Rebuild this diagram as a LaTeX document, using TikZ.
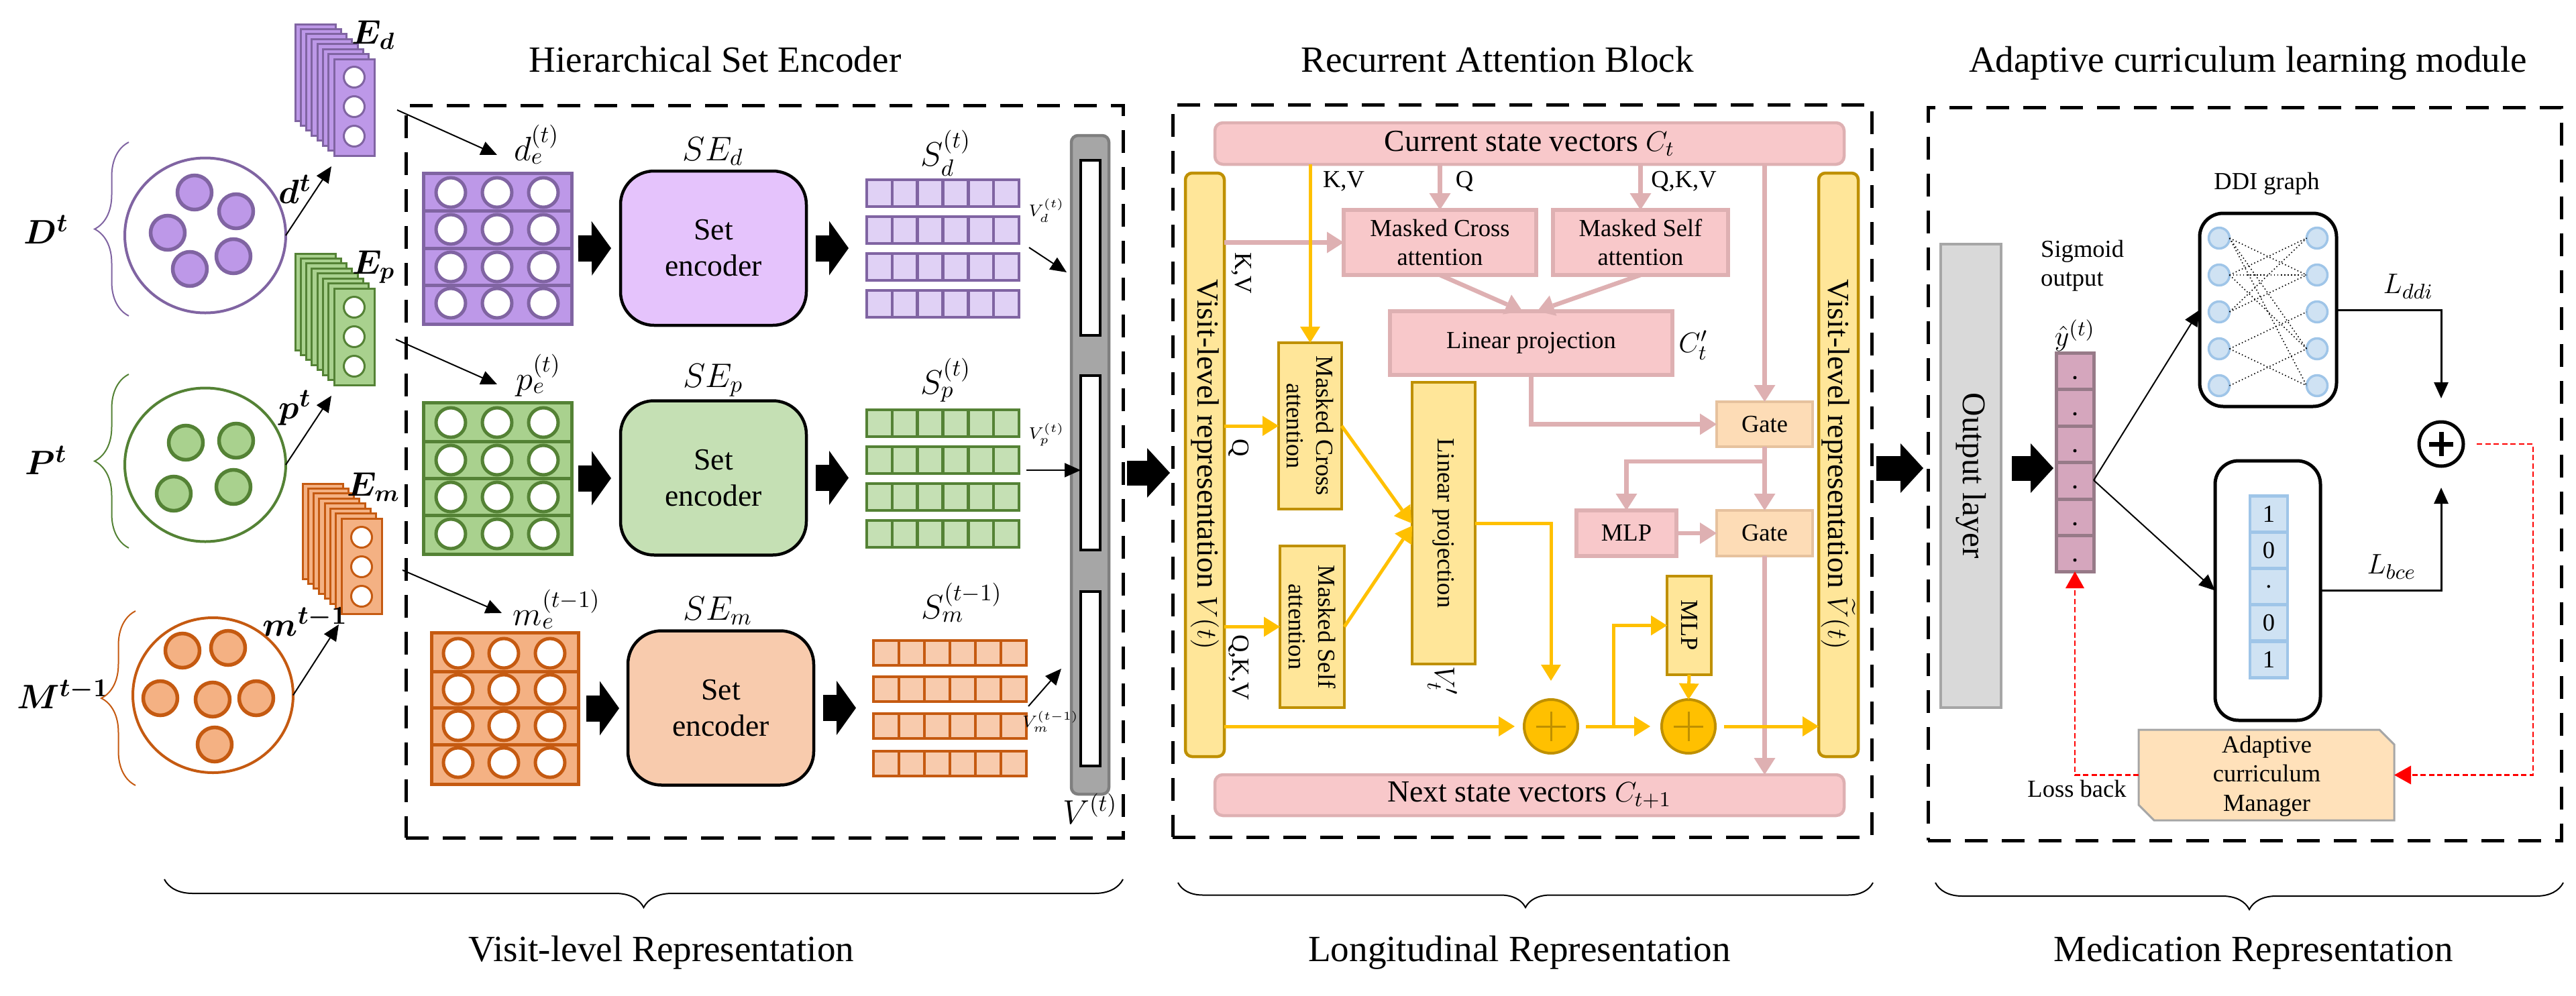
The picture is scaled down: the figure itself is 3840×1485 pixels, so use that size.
\documentclass[tikz,border=0pt]{standalone}
\usepackage{fontspec}
\setmainfont{Liberation Serif}
\usepackage{amsmath}
\usepackage{bm}
\usetikzlibrary{arrows.meta,shapes.geometric,decorations.pathreplacing,calc}
\definecolor{purF}{HTML}{BD98E8}
\definecolor{purD}{HTML}{8064A2}
\definecolor{purL}{HTML}{E5C3FC}
\definecolor{purS}{HTML}{E0D1F5}
\definecolor{grnF}{HTML}{A9D18E}
\definecolor{grnD}{HTML}{548235}
\definecolor{grnL}{HTML}{C5E0B4}
\definecolor{orgF}{HTML}{F4B183}
\definecolor{orgD}{HTML}{C55A11}
\definecolor{orgL}{HTML}{F8CBAD}
\definecolor{pinkF}{HTML}{F8C8CA}
\definecolor{pinkD}{HTML}{DEB0B2}
\definecolor{yelF}{HTML}{FFE699}
\definecolor{yelD}{HTML}{BF9000}
\definecolor{yelA}{HTML}{FFC000}
\definecolor{gateF}{HTML}{FDDCB6}
\definecolor{gateD}{HTML}{E6C29E}
\definecolor{grayF}{HTML}{D9D9D9}
\definecolor{grayD}{HTML}{A6A6A6}
\definecolor{barF}{HTML}{A6A6A6}
\definecolor{barD}{HTML}{7F7F7F}
\definecolor{sigF}{HTML}{D5A6BD}
\definecolor{sigD}{HTML}{977A88}
\definecolor{bluF}{HTML}{CFE2F3}
\definecolor{bluD}{HTML}{9FC5E8}
\definecolor{mgrF}{HTML}{FFE1BA}
\newcommand\myfsT{\fontsize{7}{8}\selectfont}
\newcommand\myfsS{\fontsize{10.4}{12.4}\selectfont}
\newcommand\myfsM{\fontsize{13}{15.4}\selectfont}
\newcommand\myfsN{\fontsize{14}{16}\selectfont}
\newcommand\myfsO{\fontsize{14}{16}\selectfont}
\newcommand\myfsL{\fontsize{15.7}{18}\selectfont}
\newcommand\myfsB{\fontsize{15}{18}\selectfont}
\newcommand\srow[6]{%
  \draw[fill=#5,draw=#6,line width=0.45mm] (#1,#2) rectangle ++(#3,#4);
  \foreach \k in {1,...,5}{\draw[#6,line width=0.45mm] ({#1+\k*#3/6},#2) -- ++(0,#4);}%
}
\begin{document}
\begin{tikzpicture}[x=0.1mm,y=-0.1mm,
  box/.style={rectangle,inner sep=0pt,outer sep=0pt},
  panelD/.style={box,fill=purF,draw=purD,line width=0.3mm,minimum width=6mm,minimum height=14.4mm},
  panelP/.style={box,fill=grnF,draw=grnD,line width=0.3mm,minimum width=6mm,minimum height=14.4mm},
  panelM/.style={box,fill=orgF,draw=orgD,line width=0.3mm,minimum width=6mm,minimum height=14.2mm},
  hole/.style={circle,inner sep=0pt,outer sep=0pt,fill=white,line width=0.3mm,minimum size=3.1mm},
  bag/.style={ellipse,inner sep=0pt,outer sep=0pt,line width=0.4mm},
  dot/.style={circle,inner sep=0pt,line width=0.55mm,minimum size=5.1mm},
  setenc/.style={box,rounded corners=5mm,draw=black,line width=0.45mm,minimum width=27.7mm,minimum height=23mm,align=center,font=\myfsM},
  pinkbox/.style={box,fill=pinkF,draw=pinkD,line width=0.55mm,align=center,font=\myfsS},
  yelbox/.style={box,fill=yelF,draw=yelD,line width=0.45mm,align=center,font=\myfsS},
  gatebox/.style={box,fill=gateF,draw=gateD,line width=0.45mm,font=\myfsS},
  pinkarr/.style={draw=pinkD,line width=0.65mm,-{Triangle[length=2.5mm,width=3.2mm,line width=0pt]}},
  yelarr/.style={draw=yelA,line width=0.5mm,-{Triangle[length=2.4mm,width=3mm,line width=0pt]}},
  thinarr/.style={draw=black,line width=0.2mm,-{Triangle[length=2.4mm,width=2.1mm]}},
  bigarr/.style={draw=black,line width=3.7mm,-{Triangle[length=3.4mm,width=7.4mm,line width=0pt]}},
  encarr/.style={draw=black,line width=3.9mm,-{Triangle[length=2.9mm,width=8.1mm,line width=0pt]}},
  dashbox/.style={box,draw=black,line width=0.5mm,dash pattern=on 3.4mm off 2.1mm},
  reddash/.style={draw=red,line width=0.22mm,dash pattern=on 0.8mm off 0.45mm},
  redarr/.style={reddash,-{Triangle[length=2.5mm,width=2.8mm,line width=0pt]}},
  plusnode/.style={circle,inner sep=0pt,outer sep=0pt,fill=yelA,draw=yelD,line width=0.4mm,minimum size=8mm},
  ddinode/.style={circle,inner sep=0pt,outer sep=0pt,fill=bluF,draw=bluD,line width=0.35mm,minimum size=3.1mm},
  ddiedge/.style={draw=black,line width=0.45pt,densely dotted},
  vcell/.style={box,fill=bluF,draw=bluD,line width=0.45mm,minimum width=5.6mm,minimum height=5.4mm,font=\myfsS},
  bracel/.style={decorate,decoration={brace,amplitude=5.1mm},line width=0.2mm},
  bracebot/.style={decorate,decoration={brace,amplitude=#1},line width=0.2mm,draw=black}
]
\path[use as bounding box,fill=white] (0,0) rectangle (3840,1485);

% ---------------- titles ----------------
\node[font=\myfsL,anchor=base] (t1) at (1066,107) {Hierarchical Set Encoder};
\node[font=\myfsL,anchor=base] (t2) at (2232,107) {Recurrent Attention Block};
\node[font=\myfsL,anchor=base] (t3) at (3351,107) {Adaptive curriculum learning module};
\node[font=\myfsL,anchor=base] (b1) at (986,1433) {Visit-level Representation};
\node[font=\myfsL,anchor=base] (b2) at (2265,1433) {Longitudinal Representation};
\node[font=\myfsL,anchor=base] (b3) at (3359,1433) {Medication Representation};

% ---------------- dashed frames ----------------
\node[dashbox,minimum width=106.9mm,minimum height=109.2mm] (box1) at (1139.5,703) {};
\node[dashbox,minimum width=104.2mm,minimum height=109.2mm] (box2) at (2269,702) {};
\node[dashbox,minimum width=94.4mm,minimum height=109.3mm] (box3) at (3346,706.5) {};

% bottom braces
\draw[bracebot=4.2mm] (1674,1311) -- (245,1311);
\draw[bracebot=3.7mm] (2792,1316) -- (1756,1316);
\draw[bracebot=4mm] (3821,1316) -- (2885,1316);

% ---------------- left inputs ----------------
\node[font=\myfsB] (Dlab) at (69,342) {$\bm{D^t}$};
\node[font=\myfsB] (Plab) at (69,686) {$\bm{P^t}$};
\node[font=\myfsB] (Mlab) at (94,1035) {$\bm{M^{t-1}}$};
\draw[bracel,purD] (192,471) -- (192,212);
\draw[bracel,grnD] (192,817) -- (192,558);
\draw[bracel,orgD] (202,1171) -- (202,911);

\node[bag,draw=purD,minimum width=24mm,minimum height=23.1mm] (Dc) at (306,351) {};
\foreach \p [count=\i] in {(290,287),(352,315),(250,347),(348,382),(283,401)}
  \node[dot,fill=purF,draw=purD] (Dd\i) at \p {};
\node[bag,draw=grnD,minimum width=24mm,minimum height=22.9mm] (Pc) at (306,693) {};
\foreach \p [count=\i] in {(277,660),(352,657),(259,736),(348,726)}
  \node[dot,fill=grnF,draw=grnD] (Pd\i) at \p {};
\node[bag,draw=orgD,minimum width=23.9mm,minimum height=23.1mm] (Mc) at (317.5,1036.5) {};
\foreach \p [count=\i] in {(272,970),(340,966),(239,1041),(317,1043),(382,1041),(320,1110)}
  \node[dot,fill=orgF,draw=orgD] (Md\i) at \p {};

% embedding stacks
\foreach \i in {0,...,7} \node[panelD] (Ed\i) at ({470+8.3*\i},{108+7.43*\i}) {};
\foreach \yy [count=\i] in {115,159,203} \node[hole,draw=purD] (Edh\i) at (528,\yy) {};
\foreach \i in {0,...,7} \node[panelP] (Ep\i) at ({470+8.3*\i},{450+7.43*\i}) {};
\foreach \yy [count=\i] in {458,502,546} \node[hole,draw=grnD] (Eph\i) at (528,\yy) {};
\foreach \i in {0,...,7} \node[panelM] (Em\i) at ({481+8.3*\i},{792+7.43*\i}) {};
\foreach \yy [count=\i] in {801,845,889} \node[hole,draw=orgD] (Emh\i) at (539,\yy) {};

\node[font=\myfsN] (Edlab) at (557,52) {$\bm{E_d}$};
\node[font=\myfsN] (Eplab) at (557,398) {$\bm{E_p}$};
\node[font=\myfsN] (Emlab) at (557,726) {$\bm{E_m}$};
\node[font=\fontsize{15}{17}\selectfont] (dtlab) at (440,282) {$\bm{d^t}$};
\node[font=\fontsize{15}{17}\selectfont] (ptlab) at (440,608) {$\bm{p^t}$};
\node[font=\fontsize{15}{17}\selectfont] (mtlab) at (455,927) {$\bm{m^{t-1}}$};

\coordinate (dtip) at (494,248);
\coordinate (ptip) at (494,590);
\coordinate (mtip) at (505,931);
\draw[thinarr] (Dc.east) -- (dtip);
\draw[thinarr] (Pc.east) -- (ptip);
\draw[thinarr] (Mc.east) -- (mtip);

% ---------------- hierarchical set encoder ----------------
\coordinate (dinA) at (592,164); \coordinate (dinB) at (741,231);
\coordinate (pinA) at (590,506); \coordinate (pinB) at (741,573);
\coordinate (minA) at (600,850); \coordinate (minB) at (748,914);
\draw[thinarr] (dinA) -- (dinB);
\draw[thinarr] (pinA) -- (pinB);
\draw[thinarr] (minA) -- (minB);

\node[font=\myfsN,anchor=base] (delab) at (800,239) {$d_e^{(t)}$};
\node[font=\myfsN,anchor=base] (pelab) at (803,581) {$p_e^{(t)}$};
\node[font=\myfsN,anchor=base] (melab) at (830,932) {$m_e^{(t-1)}$};

% grids
\node[box,fill=purF,draw=purD,line width=0.5mm,minimum width=22.1mm,minimum height=22.5mm] (dg) at (741.5,370.5) {};
\foreach \yy in {314,370,425} \draw[purD,line width=0.5mm] (631,\yy) -- (852,\yy);
\foreach \yy in {287,342,398,452} \foreach \xx in {672,741,810}
  \draw[fill=white,draw=purD,line width=0.5mm] (\xx,\yy) circle[radius=2.2mm];
\node[box,fill=grnF,draw=grnD,line width=0.5mm,minimum width=22.1mm,minimum height=22.6mm] (pg) at (741.5,713) {};
\foreach \yy in {658,713,768} \draw[grnD,line width=0.5mm] (631,\yy) -- (852,\yy);
\foreach \yy in {630,686,741,796} \foreach \xx in {672,741,810}
  \draw[fill=white,draw=grnD,line width=0.5mm] (\xx,\yy) circle[radius=2.2mm];
\node[box,fill=orgF,draw=orgD,line width=0.5mm,minimum width=21.9mm,minimum height=22.6mm] (mg) at (752.5,1056) {};
\foreach \yy in {1001,1055,1110} \draw[orgD,line width=0.5mm] (643,\yy) -- (862,\yy);
\foreach \yy in {974,1028,1082,1137} \foreach \xx in {683,751,820}
  \draw[fill=white,draw=orgD,line width=0.5mm] (\xx,\yy) circle[radius=2.2mm];

% set encoders
\node[setenc,fill=purL] (SEd) at (1063.5,370) {Set\\encoder};
\node[setenc,fill=grnL] (SEp) at (1063.5,712.5) {Set\\encoder};
\node[setenc,fill=orgL] (SEm) at (1074.5,1055.5) {Set\\encoder};
\node[font=\myfsN,anchor=base] (SEdlab) at (1063,239) {$SE_d$};
\node[font=\myfsN,anchor=base] (SEplab) at (1063,577) {$SE_p$};
\node[font=\myfsN,anchor=base] (SEmlab) at (1070,924) {$SE_m$};

% set outputs
\node[box,minimum width=22.7mm,minimum height=20.5mm] (Sd) at (1405.5,370.5) {};
\node[box,minimum width=22.7mm,minimum height=20.5mm] (Sp) at (1405.5,713.5) {};
\node[box,minimum width=22.8mm,minimum height=20.2mm] (Sm) at (1416,1056) {};
\foreach \yy in {268,323,378,433} {\srow{1292}{\yy}{227}{40}{purS}{purD}}
\foreach \yy in {611,666,721,776} {\srow{1292}{\yy}{227}{40}{grnL}{grnD}}
\foreach \yy in {955,1009,1064,1120} {\srow{1302}{\yy}{228}{37}{orgL}{orgD}}
\node[font=\myfsN,anchor=base] (Sdlab) at (1410,247) {$S_d^{(t)}$};
\node[font=\myfsN,anchor=base] (Splab) at (1410,587) {$S_p^{(t)}$};
\node[font=\myfsN,anchor=base] (Smlab) at (1434,922) {$S_m^{(t-1)}$};

\draw[encarr,shorten <=1mm,shorten >=1.4mm] (dg.east) -- (SEd.west);
\draw[encarr,shorten <=1.4mm,shorten >=2.7mm] (SEd.east) -- (SEd.east -| Sd.west);
\draw[encarr,shorten <=1mm,shorten >=1.4mm] (pg.east) -- (pg.east -| SEp.west);
\draw[encarr,shorten <=1.4mm,shorten >=2.7mm] (SEp.east) -- (SEp.east -| Sp.west);
\draw[encarr,shorten <=1.2mm,shorten >=1.3mm] (mg.east) -- (mg.east -| SEm.west);
\draw[encarr,shorten <=1.4mm,shorten >=2.6mm] (SEm.east) -- (SEm.east -| Sm.west);

% visit vector bar
\node[box,rounded corners=1mm,fill=barF,draw=barD,line width=0.45mm,minimum width=5.6mm,minimum height=98.2mm] (Vbar) at (1625,693) {};
\node[box,fill=white,draw=black,line width=0.45mm,minimum width=2.9mm,minimum height=26.1mm] (Vd) at (1625.5,369.5) {};
\node[box,fill=white,draw=black,line width=0.45mm,minimum width=2.9mm,minimum height=26mm] (Vp) at (1625.5,690) {};
\node[box,fill=white,draw=black,line width=0.45mm,minimum width=2.9mm,minimum height=26mm] (Vm) at (1625.5,1012) {};
\node[font=\myfsN,anchor=base] (Vlab) at (1625,1228) {$V^{(t)}$};
\node[font=\myfsT,inner sep=0.5pt] (Vdlab) at (1560,314) {$V_d^{(t)}$};
\node[font=\myfsT,inner sep=0.5pt] (Vplab) at (1560,648) {$V_p^{(t)}$};
\node[font=\myfsT,inner sep=0.5pt] (Vmlab) at (1566,1076) {$V_m^{(t-1)}$};
\coordinate (vdA) at (1534,369); \coordinate (vdB) at (1590,406);
\coordinate (vpA) at (1530,701);
\coordinate (vmA) at (1533,1053); \coordinate (vmB) at (1582,997);
\draw[thinarr] (vdA) -- (vdB);
\draw[thinarr] (vpA) -- (vpA -| Vp.west);
\draw[thinarr] (vmA) -- (vmB);

% ---------------- recurrent attention block ----------------
% for nodes rotated by -90: .west = top, .east = bottom, .north = right, .south = left
\node[box,rounded corners=1.2mm,fill=pinkF,draw=pinkD,line width=0.45mm,minimum width=93.8mm,minimum height=6.2mm,font=\myfsM] (CS) at (2280,214) {Current state vectors $C_t$};
\node[box,rounded corners=1.2mm,fill=pinkF,draw=pinkD,line width=0.45mm,minimum width=93.8mm,minimum height=6.1mm,font=\myfsM] (NS) at (2280,1185.5) {Next state vectors $C_{t+1}$};
\node[box,rotate=-90,rounded corners=1mm,fill=yelF,draw=yelD,line width=0.45mm,minimum width=87mm,minimum height=5.8mm,font=\myfsM] (VL) at (1796,693) {Visit-level representation $V(t)$};
\node[box,rotate=-90,rounded corners=1mm,fill=yelF,draw=yelD,line width=0.45mm,minimum width=87mm,minimum height=5.9mm,font=\myfsM] (VR) at (2740.5,693) {Visit-level representation $\widetilde{V}(t)$};

\node[pinkbox,minimum width=28.7mm,minimum height=9.7mm] (MCA) at (2146.5,361.5) {Masked Cross\\attention};
\node[pinkbox,minimum width=26.1mm,minimum height=9.7mm] (MSA) at (2445.5,361.5) {Masked Self\\attention};
\node[pinkbox,minimum width=42.1mm,minimum height=9.5mm] (LP) at (2282.5,511.5) {Linear projection};
\node[gatebox,minimum width=14.3mm,minimum height=6.7mm] (G1) at (2630.5,632.5) {Gate};
\node[gatebox,minimum width=14.3mm,minimum height=6.8mm] (G2) at (2630.5,795) {Gate};
\node[pinkbox,minimum width=14.9mm,minimum height=6.8mm] (MLPp) at (2424.5,795) {MLP};
\node[font=\myfsM] (Ctp) at (2524,515) {$C_t'$};

\node[yelbox,rotate=-90,minimum width=24.8mm,minimum height=9.4mm] (YCA) at (1953,635) {Masked Cross\\attention};
\node[yelbox,rotate=-90,minimum width=24.1mm,minimum height=9.6mm] (YSA) at (1956,934.5) {Masked Self\\attention};
\node[yelbox,rotate=-90,minimum width=42mm,minimum height=9.4mm] (YLP) at (2152,780) {Linear projection};
\node[yelbox,rotate=-90,minimum width=14.7mm,minimum height=6.6mm] (YMLP) at (2518,932.5) {MLP};
\node[font=\myfsM,rotate=-90] (Vtp) at (2150,1015) {$V_t'$};

\node[plusnode] (P1) at (2312,1083) {};
\node[plusnode] (P2) at (2517,1083) {};
\foreach \n in {P1,P2} {
  \draw[yelD,line width=0.3mm] ([xshift=-2.2mm]\n.center) -- ([xshift=2.2mm]\n.center);
  \draw[yelD,line width=0.3mm] ([yshift=-2.2mm]\n.center) -- ([yshift=2.2mm]\n.center);
}

% labels
\node[font=\myfsS] (lKV) at (2003,270) {K,V};
\node[font=\myfsS] (lQ) at (2183,270) {Q};
\node[font=\myfsS] (lQKV) at (2510,270) {Q,K,V};
\node[font=\myfsS,rotate=-90] (lKV2) at (1851,407) {K,V};
\node[font=\myfsS,rotate=-90] (lQ2) at (1847,668) {Q};
\node[font=\myfsS,rotate=-90] (lQKV2) at (1847,995) {Q,K,V};

% pink connectors
\draw[pinkarr] (VL.north |- MCA.west) -- (MCA.west);
\draw[pinkarr] (CS.south -| MCA.north) -- (MCA.north);
\draw[pinkarr] (CS.south -| MSA.north) -- (MSA.north);
\draw[pinkarr] (MCA.south) -- ([xshift=-1.3mm]LP.north);
\draw[pinkarr] (MSA.south) -- ([xshift=0.9mm]LP.north);
\draw[pinkarr] (LP.south) |- (G1.west);
\draw[pinkarr] (CS.south -| G1.north) -- (G1.north);
\draw[pinkarr] (G1.south) -- (G2.north);
\coordinate (br1) at (2630.5,688);
\draw[pinkarr] (br1) -| (MLPp.north);
\draw[pinkarr] (MLPp.east) -- (G2.west);
\draw[pinkarr] (G2.south) -- (G2.south |- NS.north);

% yellow connectors
\draw[yelarr] (CS.south -| YCA.west) -- (YCA.west);
\draw[yelarr] (VL.north |- YCA.south) -- (YCA.south);
\draw[yelarr] (VL.north |- YSA.south) -- (YSA.south);
\draw[yelarr] (YCA.north) -- ([xshift=-0.1mm]YLP.south);
\draw[yelarr] (YSA.north) -- ([yshift=-0.4mm]YLP.south);
\draw[yelarr,shorten >=2.8mm] (YLP.north) -| (P1.north);
\draw[yelarr,shorten >=1.4mm] (VL.north |- P1.west) -- (P1.west);
\draw[yelarr,shorten <=1.2mm,shorten >=1.7mm] (P1.east) -- (P2.west);
\coordinate (br2) at (2405,1083);
\draw[yelarr] (br2) |- (YMLP.south);
\draw[yelarr] (YMLP.east) -- (P2.north);
\draw[yelarr,shorten <=1.3mm] (P2.east) -- (P2.east -| VR.south);

% big arrow between sections
\draw[bigarr,shorten <=2.7mm,shorten >=2.3mm] ([yshift=-1.2mm]Vbar.east) -- ([yshift=-1.2mm]Vbar.east -| VL.south);

% ---------------- adaptive curriculum module ----------------
\node[box,rotate=-90,fill=grayF,draw=grayD,line width=0.45mm,minimum width=69.1mm,minimum height=9mm,font=\myfsO] (OL) at (2938,709.5) {Output layer};
\node[box,fill=sigF,draw=sigD,line width=0.5mm,minimum width=5.6mm,minimum height=32.6mm] (sig) at (3093,689) {};
\foreach \yy in {580,635,689,744,798} \draw[sigD,line width=0.5mm] (3065,\yy) -- (3121,\yy);
\foreach \yy in {563,617,672,726,781,835} \fill[black] (3093,\yy) circle[radius=0.25mm];
\node[font=\myfsS,anchor=west,align=left,inner sep=1pt] (sigl) at (3038,396) {Sigmoid\\output};
\node[font=\myfsM,inner sep=1pt] (yhat) at (3093,500) {$\hat{y}^{(t)}$};

\draw[bigarr,shorten <=2.7mm,shorten >=2.6mm] (VR.north |- 0,698) -- (OL.south |- 0,698);
\draw[bigarr,shorten <=1.6mm,shorten >=0.4mm] (OL.north |- 0,698) -- (sig.west |- 0,698);

% DDI graph
\node[font=\myfsS] (ddil) at (3379,274) {DDI graph};
\node[box,rounded corners=3.5mm,draw=black,line width=0.5mm,minimum width=20.4mm,minimum height=28.8mm] (ddi) at (3381,462) {};
\foreach \yy [count=\i] in {355,410,465,520,575} {
  \node[ddinode] (L\i) at (3308,\yy) {};
  \node[ddinode] (R\i) at (3454,\yy) {};
}
\foreach \a/\b in {1/2,1/4,1/5,2/1,2/2,2/4,3/1,3/2,4/3,4/5,5/4}
  \draw[ddiedge] (L\a.east) -- (R\b.west);

% label vector
\node[box,rounded corners=3.5mm,draw=black,line width=0.5mm,minimum width=15.7mm,minimum height=38.7mm] (lab) at (3380.5,880.5) {};
\node[vcell] (v1) at (3382,766.5) {1};
\node[vcell] (v2) at (3382,820.5) {0};
\node[vcell] (v3) at (3382,874.5) {.};
\node[vcell] (v4) at (3382,928.5) {0};
\node[vcell] (v5) at (3382,983.5) {1};

\draw[thinarr] ([yshift=-2.7mm]sig.east) -- (ddi.west);
\draw[thinarr] ([yshift=-2.7mm]sig.east) -- (lab.west);

% sum node
\node[circle,inner sep=0pt,outer sep=0pt,draw=black,line width=0.5mm,minimum size=6.6mm] (P3) at (3639,662) {};
\draw[black,line width=0.7mm] ([xshift=-1.8mm]P3.center) -- ([xshift=1.8mm]P3.center);
\draw[black,line width=0.7mm] ([yshift=-1.8mm]P3.center) -- ([yshift=1.8mm]P3.center);
\node[font=\myfsM] (Lddi) at (3590,427) {$L_{ddi}$};
\node[font=\myfsM] (Lbce) at (3565,845) {$L_{bce}$};
\draw[thinarr,line width=0.3mm,shorten >=3.5mm] (ddi.east) -| (P3.north);
\draw[thinarr,line width=0.3mm,shorten >=3.2mm] (lab.east) -| (P3.south);

% manager
\node[box,minimum width=38.1mm,minimum height=13.5mm] (mgr) at (3378.5,1155.5) {};
\draw[fill=mgrF,draw=grayD,line width=0.3mm] (mgr.north west) -- ([xshift=-2.2mm]mgr.north east) -- ([yshift=-2.2mm]mgr.north east) -- (mgr.south east) -- ([xshift=2.3mm]mgr.south west) -- ([yshift=2.3mm]mgr.south west) -- cycle;
\node[font=\myfsS,align=center] (mgrt) at (3379,1157) {Adaptive\\curriculum\\Manager};
\coordinate (rc) at (3776,1155.5);
\draw[redarr] ([xshift=2mm]P3.east) -| (rc) -- (mgr.east);
\draw[redarr] (mgr.west) -| (sig.south);
\node[font=\myfsS] (lossb) at (3096,1176) {Loss back};
\end{tikzpicture}
\end{document}
